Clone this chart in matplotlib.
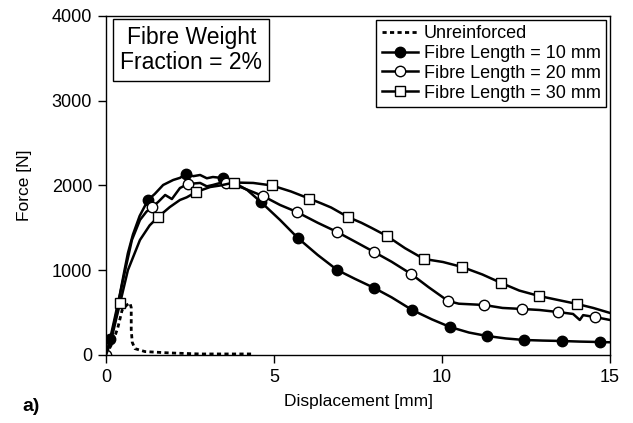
import matplotlib
matplotlib.use("Agg")
import matplotlib.pyplot as plt

plt.rcParams["font.family"] = ["Liberation Sans", "DejaVu Sans"]

# --- data (displacement in mm, force in N)
unr_x = [0, 0.2, 0.35, 0.48, 0.62, 0.71, 0.75, 0.75, 0.78, 0.86, 1.16, 1.9, 2.8, 4.38]
unr_y = [0, 150, 320, 531, 590, 614, 560, 300, 150, 75, 40, 24, 12, 12]

len10_x = [0, 0.12, 0.25, 0.42, 0.55, 0.65, 0.8, 1.0, 1.25, 1.45, 1.7, 2.0, 2.2, 2.38,
           2.6, 2.8, 3.0, 3.18, 3.48, 3.78, 4.2, 4.61, 5.18, 5.71, 6.3, 6.88, 7.4,
           7.98, 8.5, 9.11, 9.7, 10.24, 10.8, 11.34, 11.9, 12.44, 13.0, 13.57, 14.1,
           14.7, 15.0]
len10_y = [0, 190, 420, 732, 1000, 1200, 1420, 1640, 1829, 1900, 2006, 2065, 2090, 2136,
           2110, 2124, 2085, 2100, 2088, 2041, 1947, 1805, 1593, 1380, 1180, 1003, 900,
           791, 680, 531, 420, 330, 265, 224, 195, 177, 170, 165, 158, 153, 150]
len10_marks = [1, 8, 13, 18, 21, 23, 25, 27, 29, 31, 33, 35, 37, 39]

len20_x = [0, 0.15, 0.3, 0.45, 0.57, 0.77, 1.01, 1.2, 1.37, 1.55, 1.76, 1.96, 2.2, 2.44,
           2.8, 3.0, 3.18, 3.4, 3.57, 3.8, 4.08, 4.67, 5.18, 5.68, 6.3, 6.88, 7.4, 7.98,
           8.5, 9.08, 9.6, 10.18, 10.5, 11.25, 11.8, 12.38, 12.9, 13.45, 13.9, 14.1,
           14.2, 14.55, 15.0]
len20_y = [0, 200, 480, 780, 1000, 1357, 1593, 1690, 1746, 1805, 1888, 1840, 1970, 2018,
           2030, 1990, 2006, 2030, 2035, 2010, 1970, 1876, 1770, 1687, 1560, 1451, 1340,
           1215, 1100, 956, 800, 637, 605, 590, 555, 543, 531, 507, 484, 413, 470, 448,
           413]
len20_marks = [0, 8, 13, 18, 21, 23, 25, 27, 29, 31, 33, 35, 37, 41]

len30_x = [0, 0.15, 0.3, 0.42, 0.65, 1.01, 1.3, 1.55, 1.9, 2.2, 2.4, 2.68, 3.1, 3.4, 3.81,
           4.38, 4.94, 5.5, 6.05, 6.4, 6.7, 7.2, 7.6, 7.9, 8.36, 8.9, 9.46, 10.03, 10.6,
           11.2, 11.76, 12.3, 12.89, 13.5, 14.02, 14.5, 15.0]
len30_y = [0, 170, 420, 614, 1000, 1357, 1530, 1628, 1746, 1829, 1860, 1923, 1982, 2000,
           2035, 2030, 2000, 1930, 1845, 1790, 1740, 1628, 1560, 1500, 1404, 1260, 1133,
           1097, 1038, 950, 850, 760, 696, 645, 602, 555, 496]
len30_marks = [3, 7, 11, 14, 16, 18, 21, 24, 26, 28, 30, 32, 34]

x_ticks = [0, 5, 10, 15]
y_ticks = [0, 1000, 2000, 3000, 4000]

fig = plt.figure(figsize=(6.33, 4.23), dpi=100)
ax = fig.add_axes([0.1675, 0.1608, 0.7962, 0.8014])

lw = 1.8
ax.plot(unr_x, unr_y, color="black", lw=2.0, linestyle=(0, (1.5, 1.2)),
        label="Unreinforced")
ax.plot(len10_x, len10_y, color="black", lw=lw, marker="o", ms=7.5,
        markevery=len10_marks, mfc="black", mec="black",
        label="Fibre Length = 10 mm")
ax.plot(len20_x, len20_y, color="black", lw=lw, marker="o", ms=7.5,
        markevery=len20_marks, mfc="white", mec="black", mew=1.0,
        label="Fibre Length = 20 mm")
ax.plot(len30_x, len30_y, color="black", lw=lw, marker="s", ms=7.5,
        markevery=len30_marks, mfc="white", mec="black", mew=1.0,
        label="Fibre Length = 30 mm")

ax.set_xlim(0, 15)
ax.set_ylim(0, 4000)
ax.set_xticks(x_ticks)
ax.set_yticks(y_ticks)
ax.tick_params(direction="out", length=6, width=1, labelsize=13, pad=4,
               top=False, right=False)
for s in ax.spines.values():
    s.set_linewidth(1.0)

ax.set_xlabel("Displacement [mm]", fontsize=12.5, labelpad=6)
ax.set_ylabel("Force [N]", fontsize=12.5, labelpad=14)

leg = ax.legend(loc="upper right", fontsize=13, frameon=True, fancybox=False,
                edgecolor="black", framealpha=1, borderaxespad=0.2,
                labelspacing=0.16, borderpad=0.3, handlelength=2.0,
                handletextpad=0.35)
leg.get_frame().set_linewidth(1.0)

ax.text(0.169, 0.90, "Fibre Weight\nFraction = 2%", transform=ax.transAxes,
        ha="center", va="center", fontsize=16.5, linespacing=1.1,
        bbox=dict(boxstyle="square,pad=0.3", fc="white", ec="black", lw=1.0))

fig.text(0.049, 0.038, "a)", fontsize=14, fontweight="bold", ha="center", va="center")

fig.savefig("out.png", dpi=100)
